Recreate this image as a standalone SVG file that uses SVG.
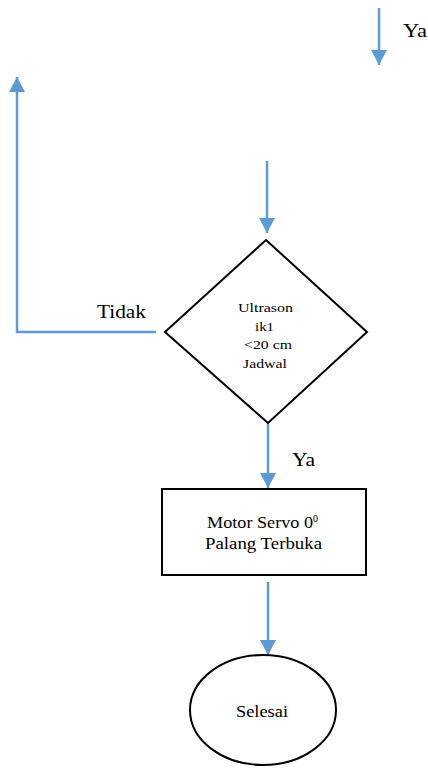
<svg xmlns="http://www.w3.org/2000/svg" width="428" height="768" viewBox="0 0 428 768">
<style>
.conn{stroke:#5B9BD5;stroke-width:2.5;fill:none}
.shape{fill:#fff;stroke:#000;stroke-width:2}
text{font-family:'Liberation Serif','Times New Roman',serif;fill:#000}
.lbl{font-size:18px}
.node{font-size:13.5px}
.node2{font-size:16px}
</style>
<defs>
<marker id="arr" markerUnits="userSpaceOnUse" markerWidth="16" markerHeight="16" viewBox="0 0 16 16" refX="15" refY="8" orient="auto">
<path d="M0,0 L15,8 L0,16 Z" fill="#5B9BD5"/>
</marker>
</defs>
<rect width="428" height="768" fill="#fff"/>
<g id="connectors">
<line class="conn" x1="379" y1="8" x2="379" y2="65" marker-end="url(#arr)"/>
<polyline class="conn" points="156,332 17,332 17,77" marker-end="url(#arr)"/>
<line class="conn" x1="267" y1="161" x2="267" y2="233" marker-end="url(#arr)"/>
<line class="conn" x1="268" y1="423" x2="268" y2="488" marker-end="url(#arr)"/>
<line class="conn" x1="268" y1="582" x2="268" y2="655" marker-end="url(#arr)"/>
</g>
<g id="labels">
<text class="lbl" x="403" y="37" textLength="24" lengthAdjust="spacingAndGlyphs">Ya</text>
<text class="lbl" x="97" y="318" textLength="49" lengthAdjust="spacingAndGlyphs">Tidak</text>
<text class="lbl" x="292" y="466" textLength="23" lengthAdjust="spacingAndGlyphs">Ya</text>
</g>
<g id="decision">
<polygon class="shape" points="266,240 367,332 268,423 165,332"/>
<text class="node" x="238" y="312" textLength="55" lengthAdjust="spacingAndGlyphs">Ultrason</text>
<text class="node" x="255" y="331" textLength="19" lengthAdjust="spacingAndGlyphs">ik1</text>
<text class="node" x="244" y="349" textLength="48" lengthAdjust="spacingAndGlyphs">&lt;20 cm</text>
<text class="node" x="243" y="368" textLength="44" lengthAdjust="spacingAndGlyphs">Jadwal</text>
</g>
<g id="process">
<rect class="shape" x="162" y="489" width="204" height="86"/>
<text class="node2" x="207" y="528"><tspan textLength="106" lengthAdjust="spacingAndGlyphs">Motor Servo 0</tspan><tspan x="313" dy="-6" font-size="10">0</tspan></text>
<text class="node2" x="205" y="549" textLength="117" lengthAdjust="spacingAndGlyphs">Palang Terbuka</text>
</g>
<g id="end">
<ellipse class="shape" cx="263" cy="710" rx="73" ry="55"/>
<text class="node2" x="236" y="717" textLength="52" lengthAdjust="spacingAndGlyphs">Selesai</text>
</g>
</svg>
